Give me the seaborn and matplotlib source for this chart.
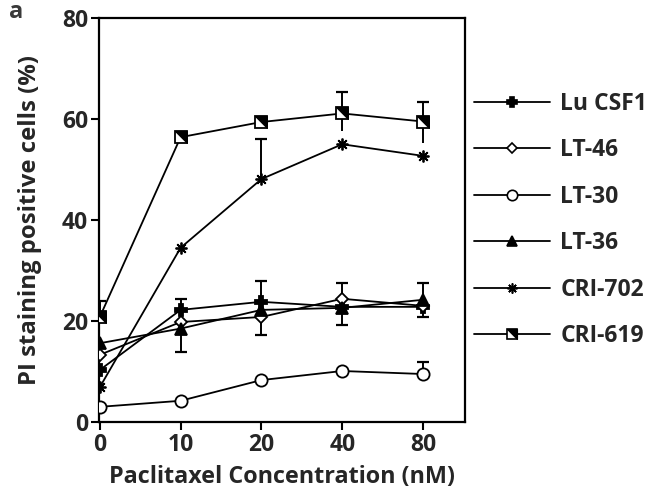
import numpy as np
import matplotlib
matplotlib.use("Agg")
import matplotlib.pyplot as plt
import seaborn as sns
from matplotlib.lines import Line2D
from matplotlib.legend_handler import HandlerTuple

# paclitaxel concentrations (nM), shown as evenly spaced categories
conc_labels = ["0", "10", "20", "40", "80"]

# PI staining positive cells (%) per cell line
lu_csf1 = [10.3, 22.2, 23.8, 22.8, 22.8]
lt46 = [13.3, 19.8, 20.8, 24.4, 23.0]
lt30 = [3.0, 4.2, 8.3, 10.1, 9.5]
lt36 = [15.6, 18.5, 22.2, 22.6, 24.2]
cri702 = [6.9, 34.5, 48.1, 55.0, 52.7]
cri619 = [20.8, 56.4, 59.4, 61.1, 59.5]

# visible error bars (upper / lower), 0 = not shown
lu_csf1_up = [0, 2.1, 4.1, 0, 0]
lu_csf1_low = [0, 0, 0, 3.6, 2.0]
lt46_up = [0, 0, 0, 3.2, 0]
lt46_low = [0, 0, 3.6, 0, 0]
lt30_up = [0, 0, 0, 0, 2.4]
lt30_low = [0, 0, 0, 0, 0]
lt36_up = [0, 0, 0, 0, 3.4]
lt36_low = [0, 4.6, 0, 0, 0]
cri702_up = [0, 0, 7.9, 0, 0]
cri702_low = [0, 0, 0, 0, 0]
cri619_up = [3.2, 0, 0, 4.2, 3.9]
cri619_low = [0, 0, 0, 3.5, 4.3]

names = ["Lu CSF1", "LT-46", "LT-30", "LT-36", "CRI-702", "CRI-619"]

sns.set_theme(style="ticks")
plt.rcParams["font.family"] = ["Open Sans", "DejaVu Sans"]
plt.rcParams["font.weight"] = "bold"

# upper-right black corner of the CRI-619 square
corner = [(-1, 1), (1, 1), (1, -1), (-1, 1)]

styles = {
    "Lu CSF1": dict(marker="P", ms=8.5, mfc="black"),
    "LT-46": dict(marker="D", ms=6.3, mfc="white"),
    "LT-30": dict(marker="o", ms=8.8, mfc="white"),
    "LT-36": dict(marker="^", ms=8.5, mfc="black"),
    "CRI-702": dict(marker=(8, 2, 0), ms=8.5, mfc="black"),
    "CRI-619": dict(marker="s", ms=8.5, mfc="white"),
}
values = dict(zip(names, [lu_csf1, lt46, lt30, lt36, cri702, cri619]))
ups = dict(zip(names, [lu_csf1_up, lt46_up, lt30_up, lt36_up, cri702_up, cri619_up]))
lows = dict(zip(names, [lu_csf1_low, lt46_low, lt30_low, lt36_low, cri702_low, cri619_low]))

fig = plt.figure(figsize=(6.58, 4.96), dpi=100)
ax = fig.add_axes([99 / 658, 1 - 422 / 496, 366 / 658, 404 / 496])
x = np.arange(len(conc_labels))


def one_side(xv, yv, err, upper, capsize):
    err = np.asarray(err, dtype=float)
    m = err > 0
    if not m.any():
        return
    yv = np.asarray(yv, dtype=float)[m]
    z = np.zeros(m.sum())
    yerr = [z, err[m]] if upper else [err[m], z]
    _, caps, _ = ax.errorbar(xv[m], yv, yerr=yerr, fmt="none", ecolor="black",
                             elinewidth=1.4, capsize=capsize, capthick=1.6, zorder=1)
    for c in caps:
        if np.allclose(c.get_ydata(), yv):
            c.set_visible(False)


for name in names:
    st = styles[name]
    sns.lineplot(x=x, y=values[name], ax=ax, color="black", linewidth=1.3,
                 marker=st["marker"], markersize=st["ms"], markerfacecolor=st["mfc"],
                 markeredgecolor="black", markeredgewidth=1.3, legend=False, zorder=3)
    one_side(x, values[name], ups[name], True, 4.6)
    one_side(x, values[name], lows[name], False, 0 if name == "CRI-619" else 4.6)

ax.plot(x, cri619, linestyle="none", marker=corner, markersize=8.5,
        markerfacecolor="black", markeredgecolor="black", markeredgewidth=0.8, zorder=4)

ax.set_xlim(-0.01, 4.52)
ax.set_ylim(0, 80)
ax.set_xticks(x)
ax.set_xticklabels(conc_labels)
ax.set_yticks([0, 20, 40, 60, 80])
ax.tick_params(axis="both", labelsize=16.5, width=1.5, length=6, color="black", pad=2)
for s in ax.spines.values():
    s.set_linewidth(1.6)
    s.set_color("black")

ax.set_xlabel("Paclitaxel Concentration (nM)", fontsize=16.8, fontweight="bold", labelpad=6)
ax.set_ylabel("PI staining positive cells (%)", fontsize=17.2, fontweight="bold", labelpad=14)

# legend
handles = []
for name in names:
    st = styles[name]
    h = Line2D([], [], color="black", linewidth=1.3, marker=st["marker"],
               markersize=st["ms"] * 0.85, markerfacecolor=st["mfc"],
               markeredgecolor="black", markeredgewidth=1.2)
    if name == "CRI-619":
        c = Line2D([], [], linestyle="none", marker=corner, markersize=st["ms"] * 0.85,
                   markerfacecolor="black", markeredgecolor="black", markeredgewidth=0.8)
        h = (h, c)
    handles.append(h)

fig.legend(handles, names, loc="center left", bbox_to_anchor=(474 / 658, 1 - 220 / 496),
           frameon=False, handlelength=3.3, handletextpad=0.47,
           labelspacing=0.98, borderpad=0, borderaxespad=0,
           handler_map={tuple: HandlerTuple(ndivide=1)},
           prop={"weight": "bold", "size": 16.5})

fig.text(9 / 658, 1 - 12 / 496, "a", fontsize=17, color="#3a3a3a", va="center", ha="left")

fig.savefig("out.png", dpi=100)
